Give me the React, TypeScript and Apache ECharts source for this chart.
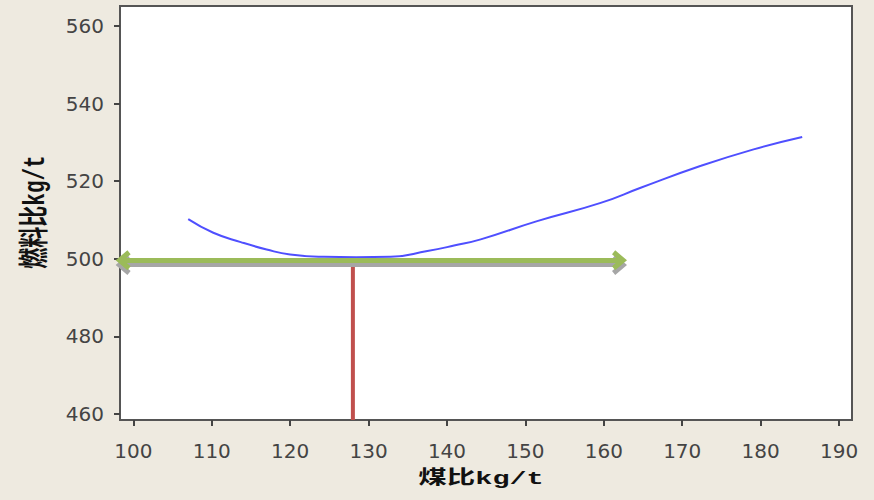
import React, { useEffect, useRef } from "react";
import * as echarts from "echarts";

// 煤比 (kg/t) vs 燃料比 (kg/t) fitted curve
const curveX = [107, 110.2, 113.7, 117, 120, 124.3, 128.4, 132.8, 137.5, 140.9, 144.3, 151.5, 159.6, 164.7, 172.3, 179.1, 185.3];
const curveY = [510.2, 506.7, 504.3, 502.4, 501.1, 500.5, 500.4, 500.5, 502.0, 503.4, 505.0, 509.7, 514.4, 518.3, 523.9, 528.2, 531.4];

const xTicks = [100, 110, 120, 130, 140, 150, 160, 170, 180, 190];
const yTicks = [460, 480, 500, 520, 540, 560];

const xMin = 98.3;
const xMax = 191.65;
const yMin = 458.45;
const yMax = 565.15;

// green double arrow (with grey shadow) and red marker line
const arrowX = [98.7, 162.0];
const arrowY = 499.6;
const shadowY = 498.4;
const markerX = 128;
const markerTopY = 499.4;

const xName = "煤比kg/t";
const yName = "燃料比kg/t";

const chevron = "path://M10,0 L20,11 L16,14 L10,7.5 L4,14 L0,11 Z";

export default function App() {
  const ref = useRef<HTMLDivElement>(null);
  useEffect(() => {
    if (!ref.current) return;
    const chart = echarts.init(ref.current, null, { renderer: "svg" });
    const labelFont = {
      color: "#444",
      fontFamily: "DejaVu Sans",
      fontSize: 20,
    };
    const mkArrow = (y: number, color: string, width: number) => ({
      silent: true,
      symbol: [chevron, chevron],
      symbolSize: [20, 15],
      label: { show: false },
      itemStyle: { color },
      lineStyle: { color, width, type: "solid" },
      emphasis: { disabled: true },
      data: [[{ coord: [arrowX[0], y] }, { coord: [arrowX[1], y] }]],
    });
    chart.setOption({
      animation: false,
      backgroundColor: "#EEEAE0",
      grid: {
        left: 120,
        right: 22,
        top: 6,
        bottom: 80,
        show: true,
        backgroundColor: "#ffffff",
        borderColor: "#555",
        borderWidth: 2,
      },
      xAxis: {
        type: "value",
        min: xMin,
        max: xMax,
        axisLine: { show: false },
        splitLine: { show: false },
        axisTick: {
          show: true,
          customValues: xTicks,
          length: 6,
          lineStyle: { color: "#444", width: 2 },
        },
        axisLabel: {
          customValues: xTicks,
          margin: 21,
          ...labelFont,
          formatter: (v: number) => String(Math.round(v)),
        },
      },
      yAxis: {
        type: "value",
        min: yMin,
        max: yMax,
        axisLine: { show: false },
        splitLine: { show: false },
        axisTick: {
          show: true,
          customValues: yTicks,
          length: 6,
          lineStyle: { color: "#444", width: 2 },
        },
        axisLabel: {
          customValues: yTicks,
          margin: 16,
          ...labelFont,
          formatter: (v: number) => String(Math.round(v)),
        },
      },
      graphic: [
        {
          type: "text",
          x: 481,
          y: 479,
          scaleX: 1.5,
          style: {
            text: xName,
            font: "bold 19px 'Liberation Mono', 'Noto Sans CJK SC'",
            fill: "#111",
            align: "center",
            verticalAlign: "middle",
          },
        },
        {
          type: "text",
          x: 36.5,
          y: 212,
          rotation: Math.PI / 2,
          scaleY: 1.4,
          style: {
            text: yName,
            font: "bold 21px 'Liberation Mono', 'Noto Sans CJK SC'",
            fill: "#111",
            align: "center",
            verticalAlign: "middle",
          },
        },
      ],
      series: [
        {
          type: "line",
          data: curveX.map((x, i) => [x, curveY[i]]),
          smooth: 0.5,
          showSymbol: false,
          symbol: "none",
          lineStyle: { color: "#4F4FFF", width: 2 },
          z: 2,
        },
        {
          type: "line",
          data: [
            [markerX, markerTopY],
            [markerX, yMin],
          ],
          showSymbol: false,
          symbol: "none",
          clip: false,
          lineStyle: { color: "#C0504D", width: 4 },
          z: 3,
          markLine: mkArrow(shadowY, "#A6A6A6", 4),
        },
        {
          type: "line",
          data: [],
          z: 4,
          markLine: mkArrow(arrowY, "#9BBB59", 5),
        },
      ],
    });
    return () => chart.dispose();
  }, []);
  return (
    <div
      ref={ref}
      style={{ position: "fixed", left: 0, top: 0, width: 874, height: 500 }}
    />
  );
}
